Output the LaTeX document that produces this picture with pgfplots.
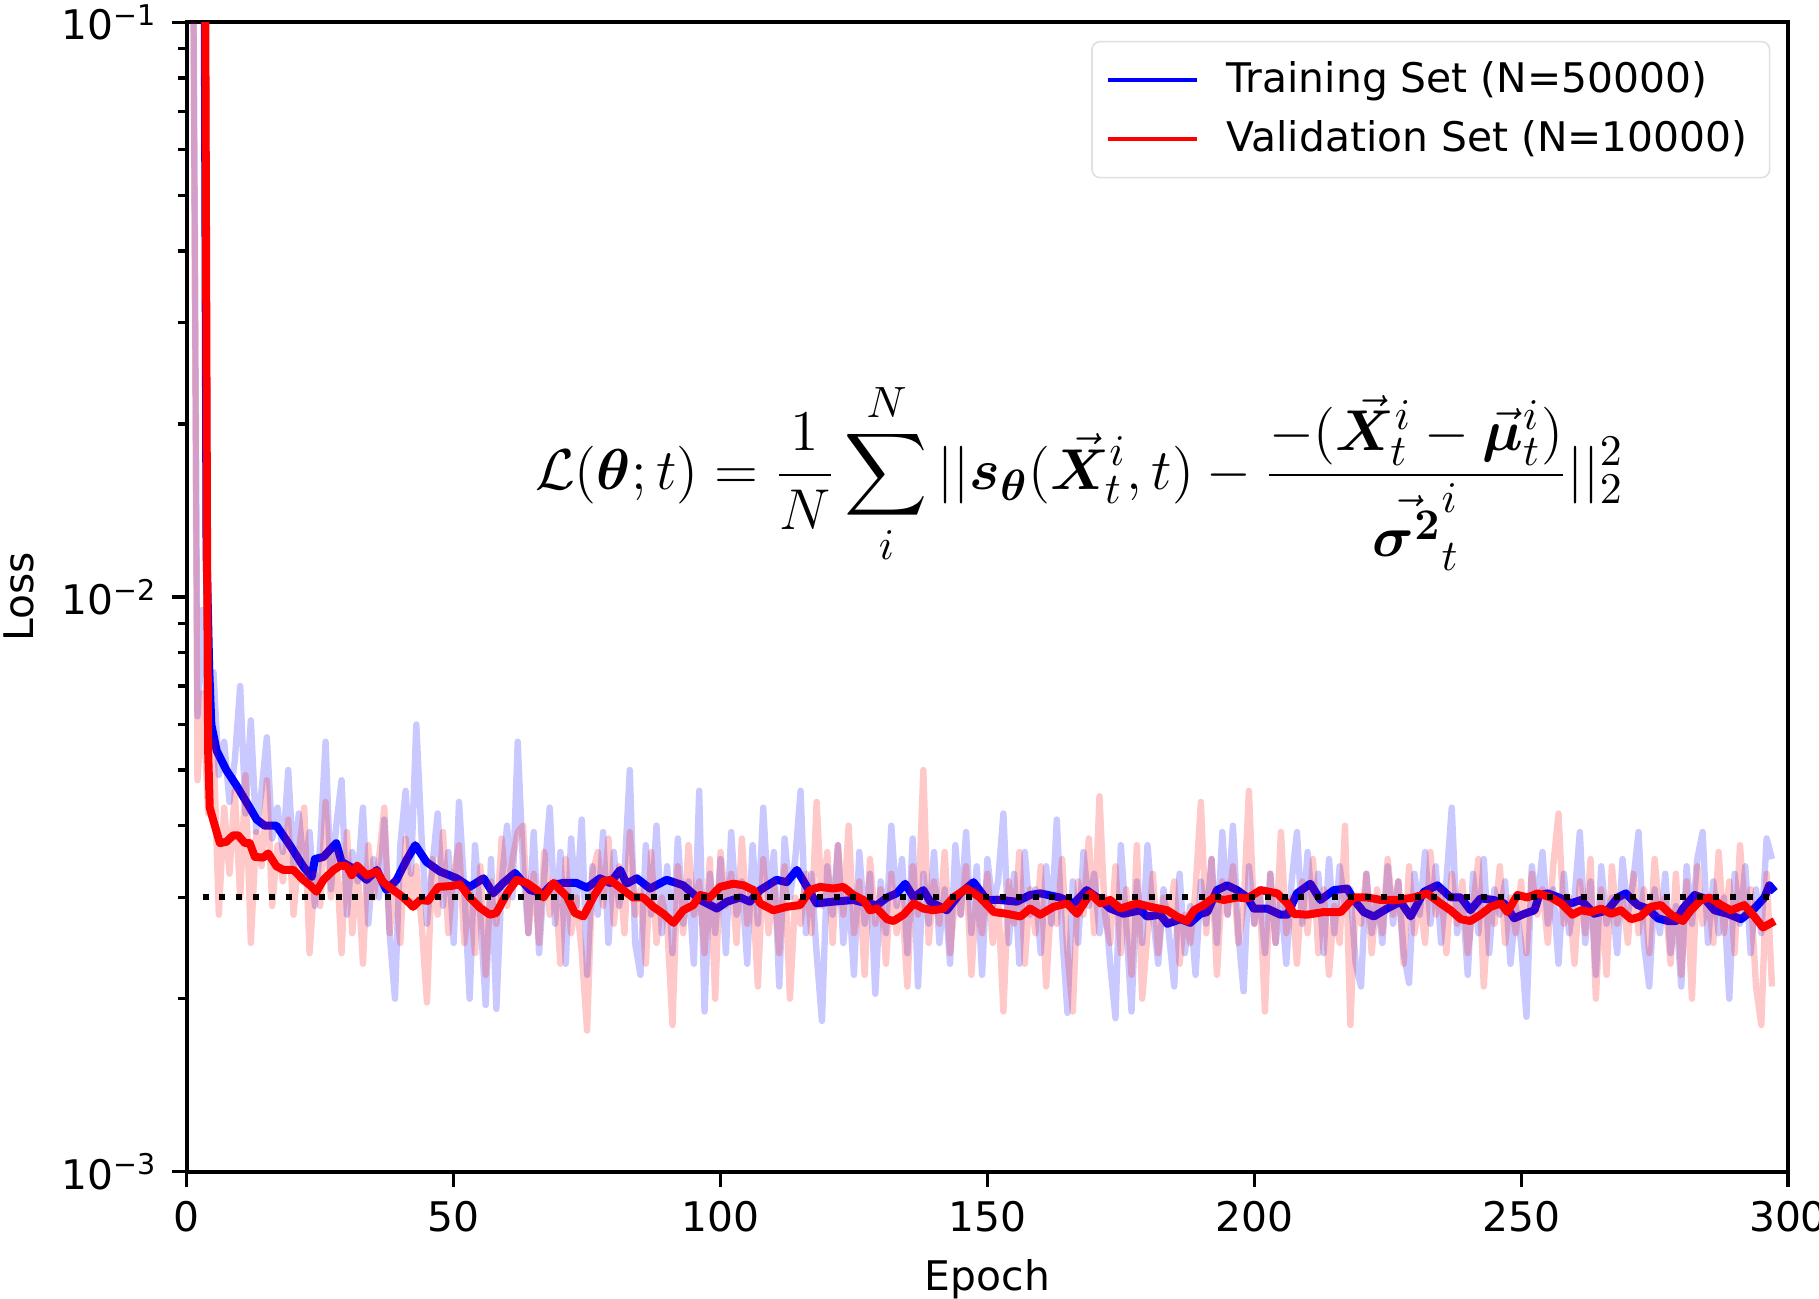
\documentclass[border=0pt]{standalone}
\usepackage{amsmath,bm}
\usepackage[no-math]{fontspec}
\setmainfont{DejaVu Sans}
\usepackage{pgfplots}
\usepackage{pgfplotstable}
\pgfplotsset{compat=1.18}

% per-epoch losses (noisy)
\pgfplotstableread{
ep T V
1 0.3 0.28
2 6.2e-3 4.8e-3
3 9.5e-3 6.8e-3
4 5.8e-3 4.2e-3
5 7.4e-3 5.6e-3
6 4.9e-3 2.8e-3
7 5.6e-3 4.3e-3
8 4.4e-3 3.3e-3
9 5.2e-3 4.6e-3
10 7.0e-3 3.0e-3
11 4.2e-3 4.9e-3
12 6.1e-3 2.5e-3
13 3.9e-3 3.9e-3
14 4.6e-3 3.4e-3
15 5.7e-3 4.8e-3
16 3.8e-3 2.9e-3
17 4.3e-3 3.7e-3
18 3.6e-3 3.2e-3
19 5.0e-3 4.1e-3
20 3.4e-3 2.8e-3
21 4.2e-3 3.6e-3
22 3.3e-3 4.3e-3
23 3.9e-3 2.4e-3
24 2.9e-3 3.3e-3
25 3.7e-3 2.9e-3
26 5.6e-3 4.4e-3
27 3.1e-3 3.0e-3
28 4.0e-3 3.6e-3
29 4.8e-3 2.4e-3
30 2.8e-3 3.9e-3
31 3.6e-3 2.6e-3
32 3.2e-3 3.4e-3
33 4.3e-3 2.3e-3
34 2.7e-3 3.7e-3
35 3.5e-3 3.0e-3
36 3.0e-3 3.5e-3
37 4.1e-3 4.3e-3
38 2.6e-3 2.6e-3
39 2.0e-3 3.2e-3
40 3.7e-3 2.5e-3
41 4.6e-3 3.8e-3
42 3.3e-3 2.9e-3
43 6.0e-3 3.4e-3
44 3.8e-3 2.7e-3
45 2.7e-3 1.97e-3
46 3.4e-3 3.5e-3
47 4.2e-3 2.8e-3
48 2.9e-3 3.9e-3
49 3.6e-3 2.6e-3
50 2.5e-3 3.3e-3
51 4.4e-3 3.7e-3
52 3.1e-3 2.5e-3
53 2.0e-3 3.1e-3
54 3.7e-3 2.4e-3
55 2.8e-3 3.4e-3
56 1.95e-3 2.2e-3
57 3.5e-3 3.2e-3
58 1.92e-3 2.7e-3
59 3.2e-3 3.8e-3
60 4.0e-3 2.9e-3
61 3.0e-3 3.5e-3
62 5.6e-3 3.9e-3
63 3.4e-3 4.0e-3
64 2.6e-3 2.6e-3
65 3.9e-3 3.3e-3
66 2.4e-3 2.5e-3
67 3.3e-3 3.6e-3
68 4.3e-3 2.8e-3
69 2.7e-3 3.2e-3
70 3.6e-3 2.3e-3
71 2.3e-3 3.5e-3
72 3.8e-3 2.6e-3
73 2.9e-3 3.0e-3
74 4.1e-3 2.4e-3
75 2.2e-3 1.76e-3
76 3.4e-3 3.3e-3
77 2.8e-3 3.6e-3
78 3.9e-3 2.9e-3
79 2.5e-3 3.8e-3
80 3.6e-3 2.7e-3
81 2.9e-3 3.4e-3
82 3.3e-3 2.6e-3
83 5.0e-3 3.9e-3
84 2.5e-3 2.8e-3
85 2.2e-3 3.1e-3
86 3.7e-3 2.3e-3
87 2.8e-3 3.6e-3
88 4.0e-3 2.5e-3
89 2.6e-3 3.0e-3
90 3.4e-3 2.7e-3
91 2.4e-3 1.8e-3
92 3.8e-3 3.4e-3
93 2.7e-3 2.6e-3
94 3.2e-3 3.7e-3
95 2.3e-3 2.8e-3
96 4.6e-3 3.2e-3
97 1.9e-3 2.4e-3
98 3.3e-3 3.5e-3
99 2.6e-3 2.0e-3
100 3.5e-3 3.6e-3
101 2.4e-3 2.9e-3
102 3.9e-3 3.3e-3
103 2.8e-3 2.5e-3
104 3.2e-3 3.8e-3
105 2.3e-3 2.7e-3
106 3.7e-3 3.1e-3
107 2.7e-3 2.1e-3
108 4.3e-3 3.5e-3
109 2.9e-3 2.6e-3
110 3.6e-3 3.2e-3
111 2.1e-3 2.4e-3
112 3.8e-3 3.4e-3
113 3.0e-3 2.0e-3
114 3.5e-3 3.0e-3
115 4.6e-3 2.7e-3
116 2.6e-3 3.3e-3
117 3.3e-3 2.6e-3
118 2.4e-3 4.4e-3
119 1.83e-3 2.9e-3
120 3.4e-3 3.6e-3
121 2.8e-3 2.5e-3
122 3.7e-3 3.7e-3
123 2.5e-3 2.8e-3
124 3.1e-3 4.0e-3
125 2.2e-3 2.6e-3
126 3.6e-3 3.2e-3
127 2.7e-3 2.2e-3
128 3.3e-3 3.5e-3
129 2.04e-3 2.7e-3
130 3.2e-3 3.1e-3
131 2.6e-3 2.3e-3
132 4.0e-3 3.3e-3
133 2.9e-3 2.6e-3
134 3.5e-3 3.0e-3
135 2.4e-3 2.1e-3
136 3.8e-3 3.4e-3
137 2.1e-3 2.8e-3
138 3.3e-3 5.0e-3
139 2.7e-3 2.5e-3
140 3.6e-3 3.2e-3
141 2.5e-3 2.7e-3
142 3.1e-3 3.6e-3
143 2.3e-3 2.4e-3
144 3.7e-3 3.0e-3
145 2.8e-3 2.8e-3
146 3.9e-3 3.4e-3
147 2.6e-3 2.2e-3
148 3.4e-3 3.1e-3
149 2.2e-3 2.6e-3
150 3.5e-3 3.3e-3
151 2.9e-3 2.5e-3
152 3.2e-3 3.0e-3
153 4.2e-3 1.9e-3
154 2.5e-3 3.2e-3
155 3.3e-3 2.7e-3
156 2.3e-3 3.6e-3
157 3.6e-3 2.3e-3
158 2.8e-3 3.1e-3
159 3.1e-3 2.6e-3
160 2.4e-3 3.4e-3
161 3.4e-3 2.1e-3
162 2.7e-3 3.0e-3
163 4.1e-3 2.7e-3
164 2.6e-3 3.5e-3
165 1.89e-3 2.4e-3
166 3.2e-3 1.9e-3
167 2.5e-3 3.2e-3
168 3.6e-3 2.8e-3
169 2.9e-3 3.8e-3
170 3.3e-3 2.6e-3
171 2.6e-3 4.5e-3
172 3.0e-3 2.8e-3
173 2.3e-3 2.5e-3
174 1.85e-3 3.4e-3
175 3.7e-3 2.4e-3
176 2.7e-3 3.1e-3
177 1.9e-3 2.2e-3
178 3.2e-3 3.7e-3
179 2.5e-3 2.0e-3
180 3.7e-3 2.6e-3
181 2.8e-3 3.3e-3
182 2.3e-3 2.4e-3
183 3.1e-3 3.0e-3
184 2.6e-3 2.7e-3
185 2.1e-3 3.2e-3
186 3.3e-3 2.3e-3
187 2.4e-3 2.8e-3
188 2.9e-3 2.5e-3
189 2.2e-3 3.1e-3
190 3.2e-3 4.4e-3
191 2.7e-3 2.6e-3
192 3.5e-3 3.5e-3
193 2.5e-3 2.2e-3
194 3.9e-3 3.2e-3
195 2.8e-3 2.8e-3
196 4.0e-3 3.4e-3
197 2.6e-3 2.5e-3
198 2.06e-3 2.9e-3
199 3.4e-3 4.6e-3
200 2.7e-3 2.7e-3
201 3.1e-3 3.1e-3
202 2.4e-3 1.9e-3
203 3.3e-3 3.3e-3
204 2.5e-3 2.5e-3
205 3.0e-3 3.9e-3
206 2.3e-3 2.6e-3
207 3.2e-3 3.0e-3
208 3.9e-3 2.3e-3
209 2.7e-3 3.2e-3
210 3.6e-3 2.6e-3
211 2.8e-3 3.5e-3
212 3.3e-3 2.4e-3
213 2.4e-3 3.1e-3
214 3.5e-3 2.2e-3
215 2.6e-3 2.9e-3
216 3.4e-3 2.5e-3
217 2.9e-3 4.0e-3
218 3.1e-3 1.8e-3
219 2.3e-3 3.0e-3
220 2.1e-3 2.7e-3
221 3.3e-3 3.3e-3
222 2.6e-3 2.4e-3
223 3.0e-3 3.1e-3
224 2.5e-3 2.6e-3
225 3.4e-3 3.5e-3
226 2.7e-3 2.8e-3
227 3.2e-3 3.2e-3
228 2.4e-3 2.3e-3
229 2.13e-3 3.4e-3
230 3.3e-3 2.6e-3
231 2.8e-3 3.0e-3
232 3.6e-3 2.5e-3
233 2.7e-3 3.6e-3
234 3.4e-3 2.8e-3
235 2.5e-3 3.1e-3
236 3.2e-3 2.4e-3
237 4.3e-3 3.3e-3
238 2.6e-3 2.7e-3
239 3.0e-3 3.2e-3
240 2.2e-3 2.4e-3
241 3.3e-3 2.9e-3
242 2.6e-3 3.5e-3
243 3.5e-3 2.1e-3
244 2.4e-3 3.0e-3
245 3.1e-3 2.7e-3
246 2.8e-3 3.4e-3
247 3.2e-3 2.5e-3
248 2.3e-3 3.0e-3
249 2.9e-3 2.6e-3
250 2.5e-3 3.2e-3
251 1.86e-3 2.4e-3
252 3.4e-3 3.3e-3
253 2.9e-3 2.8e-3
254 3.6e-3 3.1e-3
255 2.7e-3 2.5e-3
256 3.1e-3 3.4e-3
257 2.3e-3 4.2e-3
258 3.3e-3 2.7e-3
259 2.6e-3 3.0e-3
260 3.0e-3 2.3e-3
261 3.9e-3 3.2e-3
262 2.5e-3 2.6e-3
263 3.2e-3 3.5e-3
264 2.2e-3 2.0e-3
265 3.4e-3 3.1e-3
266 2.7e-3 2.2e-3
267 3.0e-3 3.4e-3
268 2.4e-3 2.7e-3
269 3.5e-3 3.0e-3
270 2.8e-3 2.5e-3
271 3.2e-3 3.3e-3
272 3.9e-3 2.6e-3
273 2.5e-3 3.1e-3
274 2.1e-3 2.4e-3
275 3.1e-3 3.5e-3
276 2.6e-3 2.8e-3
277 3.3e-3 3.0e-3
278 2.4e-3 2.3e-3
279 2.9e-3 3.3e-3
280 2.1e-3 2.2e-3
281 3.4e-3 3.2e-3
282 2.7e-3 2.0e-3
283 3.5e-3 3.4e-3
284 3.9e-3 2.7e-3
285 2.5e-3 3.0e-3
286 3.2e-3 2.5e-3
287 2.6e-3 3.6e-3
288 3.0e-3 2.6e-3
289 2.0e-3 3.2e-3
290 3.3e-3 2.4e-3
291 2.7e-3 3.7e-3
292 3.4e-3 2.8e-3
293 2.4e-3 3.1e-3
294 3.1e-3 2.1e-3
295 2.6e-3 1.8e-3
296 3.8e-3 3.3e-3
297 3.5e-3 2.1e-3
}\losstab

\definecolor{mblue}{RGB}{0,0,255}
\definecolor{mred}{RGB}{255,0,0}

\begin{document}
\begin{tikzpicture}
\begin{axis}[
    name=ax,
    width=400.3pt, height=287.3pt, scale only axis,
    xmin=0, xmax=300, ymode=log, ymin=1e-3, ymax=1e-1,
    xtick={0,50,...,300},
    ytick={1e-3,1e-2,1e-1},
    yticklabels={10\textsuperscript{−3},10\textsuperscript{−2},10\textsuperscript{−1}},
    tick align=outside, xtick pos=left, ytick pos=left,
    major tick length=3.75pt, minor tick length=2.1pt,
    every tick/.style={black, line width=0.8pt},
    axis line style={line width=1pt},
    /pgf/number format/assume math mode=true,
    tick label style={font=\fontsize{10.2}{12}\selectfont},
    label style={font=\fontsize{10.2}{12}\selectfont},
    xlabel={Epoch}, ylabel={Loss},
    legend style={at={(0.989,0.984)}, anchor=north east,
        draw=black!12, rounded corners=2pt, fill=white, fill opacity=0.85,
        text opacity=1, font=\fontsize{10.2}{12}\selectfont,
        row sep=1.5pt, inner xsep=3.5pt, inner ysep=3pt,
        /tikz/every odd column/.append style={column sep=4.8pt}},
    legend cell align=left,
    legend image code/.code={\draw[#1, line width=1.1pt] (0pt,0pt) -- (22.3pt,0pt);},
]
\addplot[mblue, draw opacity=0.21, line width=1.6pt, line join=round, forget plot]
    table[x=ep, y=T] {\losstab};
\addplot[mblue, line width=2pt, line join=round] coordinates {
(3.2,0.3) (3.7,0.012) (4.2,0.0075) (4.6,0.0060) (5.6,0.0054) (7.4,0.0050)
(9.3,0.0047) (11.8,0.0043) (13.1,0.0041) (14.6,0.0040) (16.8,0.0040)
(19.3,0.0037) (21.8,0.0034) (23.4,0.00326) (24,0.0035) (25.6,0.00353)
(26.8,0.00363) (28,0.00373) (29,0.00346) (31.2,0.00337) (33.7,0.00322)
(35.6,0.00335) (37.4,0.00309) (39.3,0.00322) (41.2,0.00349) (42.8,0.0037)
(44.9,0.00346) (47.4,0.00333) (50.6,0.00324) (53,0.00313) (55.6,0.00324)
(57.4,0.00305) (59.3,0.00318) (61.5,0.00331) (64.3,0.00309) (66.8,0.00305)
(68.2,0.00315) (70.5,0.00318) (73,0.00318) (75,0.00312) (77.4,0.00324)
(79.3,0.00318) (81.2,0.00335) (82.4,0.00317) (84.3,0.00324) (86.8,0.00311)
(89.9,0.00322) (93,0.00315) (96.2,0.00297) (99.3,0.00287) (101.2,0.00295)
(103.7,0.0030) (105.5,0.00295) (107.4,0.00309) (110.5,0.00322) (112.4,0.00319)
(114.3,0.00335) (116.2,0.00313) (118,0.00293) (121.1,0.00295) (124.9,0.00297)
(127.4,0.00293) (129.3,0.00291) (131.2,0.0030) (133,0.00305) (134.6,0.00317)
(136.2,0.0030) (138,0.00309) (139.3,0.00295) (142.4,0.00285) (144.9,0.00305)
(147.4,0.00319) (149.9,0.00297) (152.4,0.00297) (155.5,0.00295) (158,0.00303)
(159.9,0.00305) (163.6,0.0030) (166.2,0.00293) (168.6,0.00309) (171.2,0.00297)
(173,0.00287) (175.5,0.00281) (178.7,0.00285) (179.9,0.00278) (182.4,0.0028)
(183.7,0.0027) (186.2,0.00275) (188,0.00271) (189.9,0.00281) (191.2,0.00283)
(193,0.00309) (194.9,0.00315) (196.8,0.00309) (198.7,0.0030) (199.9,0.00287)
(202.4,0.00287) (204.9,0.0028) (206.2,0.0028) (208,0.00305) (210.5,0.00317)
(212.4,0.00297) (214.9,0.00309) (217.4,0.00311) (218.7,0.00297) (220.5,0.00283)
(222.4,0.00278) (224.9,0.00287) (227.4,0.00295) (229.3,0.00278) (231.8,0.00307)
(234.3,0.00315) (236.8,0.0030) (238.7,0.0030) (240.5,0.00285) (242.4,0.00299)
(244.9,0.00297) (246.8,0.00293) (248.7,0.00276) (250.6,0.00281) (252.5,0.00285)
(253.4,0.00303) (255,0.00305) (257.5,0.00299) (259.3,0.00293) (261.2,0.00297)
(263.7,0.00281) (266.2,0.00285) (268.1,0.0030) (269.6,0.00305) (271.8,0.00291)
(273.7,0.00287) (275.6,0.00276) (277.5,0.00273) (279,0.00273) (280.3,0.00287)
(282.5,0.00303) (284.3,0.00299) (286.2,0.00285) (288.7,0.00281) (291.2,0.00275)
(293.7,0.00287) (295.6,0.0030) (296.5,0.00315) (297.5,0.00307)
};
\addlegendentry{Training Set (N=50000)}
\addplot[mred, draw opacity=0.21, line width=1.6pt, line join=round, forget plot]
    table[x=ep, y=V] {\losstab};
\addplot[mred, line width=2pt, line join=round] coordinates {
(3.3,0.3) (3.8,0.012) (4.0,0.0054) (4.3,0.0043) (5.25,0.0040) (6.2,0.00373)
(7.4,0.00375) (8.7,0.00385) (9.6,0.00385) (10.9,0.00373) (11.8,0.00373)
(12.75,0.00353) (14.3,0.00352) (15.25,0.00358) (16.8,0.0034) (18.1,0.00335)
(20,0.00335) (21.8,0.00322) (23.1,0.00315) (24.3,0.00307) (25.6,0.00322)
(27.5,0.00335) (28.8,0.00341) (30,0.0034) (30.9,0.00328) (31.9,0.00341)
(33.7,0.00328) (35.6,0.00333) (36.8,0.00319) (38.7,0.00309) (40.6,0.0030)
(42.4,0.00289) (43.7,0.00297) (45.2,0.00296) (47.1,0.00313) (49.3,0.00314)
(51.2,0.00316) (53,0.0030) (54.9,0.00288) (56.8,0.0028) (58,0.00282)
(59.3,0.00297) (60.2,0.00307) (61.8,0.00322) (63.7,0.00318) (65.6,0.00309)
(66.8,0.0030) (68.7,0.00318) (71.2,0.00301) (72.7,0.00282) (74.3,0.00278)
(76.2,0.00301) (78,0.0032) (79.3,0.00322) (81.8,0.00309) (83.6,0.0030)
(85.5,0.0030) (87.4,0.00289) (89.3,0.00281) (91.2,0.00271) (93,0.00285)
(94.9,0.00291) (96.2,0.00303) (98,0.0030) (99.9,0.00313) (102.4,0.00317)
(104.3,0.00315) (106.2,0.00309) (107.4,0.00293) (109.9,0.00285) (112.4,0.00289)
(114.9,0.00291) (116.8,0.00309) (118.6,0.00313) (121.1,0.00311) (123,0.00313)
(124.9,0.00303) (126.8,0.00297) (128,0.00285) (129.3,0.00287) (131.2,0.00275)
(132.4,0.00273) (134.3,0.0028) (136.2,0.00293) (138,0.00287) (139.9,0.00285)
(141.8,0.00287) (143.6,0.0030) (146.1,0.00311) (148.6,0.0030) (151.2,0.00283)
(153.7,0.00281) (156.2,0.00278) (158,0.00287) (159.9,0.0028) (162.4,0.00289)
(164.9,0.00293) (166.8,0.00281) (169.3,0.00305) (171.2,0.00293) (173,0.00297)
(174.9,0.00287) (178,0.00293) (180.5,0.00289) (183.7,0.00285) (185.5,0.00278)
(187.4,0.00273) (188.7,0.00285) (190.5,0.00291) (192.4,0.0030) (194.3,0.00297)
(196.8,0.0030) (198.7,0.00299) (201.2,0.00309) (204.3,0.00305) (206.2,0.00293)
(207.4,0.00281) (209.9,0.0028) (213,0.00283) (216.2,0.00283) (218.7,0.0030)
(221.2,0.0030) (223.7,0.00297) (226.8,0.00297) (229.9,0.0030) (232.4,0.00305)
(234.9,0.00293) (236.8,0.00285) (238.7,0.00275) (240.5,0.00273) (242.4,0.0028)
(244.3,0.00289) (246.2,0.00293) (247.4,0.00283) (249.3,0.00303) (251.2,0.0030)
(253.1,0.00305) (255.6,0.0030) (257.5,0.00293) (259.6,0.0028) (261.2,0.00285)
(263.1,0.00283) (265,0.00287) (266.8,0.00281) (268.7,0.00285) (270.6,0.00275)
(272.4,0.00278) (274.3,0.00289) (276.2,0.00291) (278.1,0.0028) (280.3,0.00273)
(281.8,0.00285) (283.7,0.00297) (285.3,0.0030) (287.5,0.00291) (289.3,0.00285)
(291.8,0.00291) (293.7,0.00278) (295.3,0.00266) (297.5,0.00273)
};
\addlegendentry{Validation Set (N=10000)}
\addplot[black, line width=1.5pt, dash pattern=on 1.5pt off 2.65pt, forget plot]
    coordinates {(3,0.003) (298,0.003)};
\node at (rel axis cs:0.5575,0.605) {\fontsize{15.3}{18}\selectfont$\displaystyle
    \mathcal{L}(\bm{\theta};t)=\frac{1}{N}\sum_{i}^{N}||\bm{s}_{\bm{\theta}}(\vec{\bm{X}}_t^i,t)
    -\frac{-(\vec{\bm{X}}_t^i-\vec{\bm{\mu}}_t^i)}{\vec{\bm{\sigma^2}}_t^i}||_2^2$};
\end{axis}
\pgfresetboundingbox
\path[use as bounding box] ([xshift=-46.7pt,yshift=-31.6pt]ax.south west)
    rectangle ([xshift=7.75pt,yshift=5.6pt]ax.north east);
\end{tikzpicture}
\end{document}
